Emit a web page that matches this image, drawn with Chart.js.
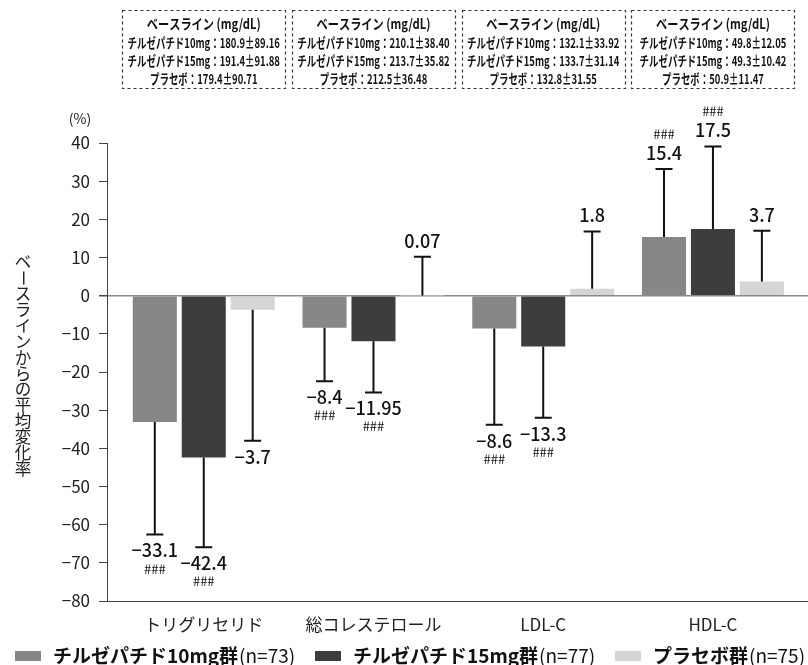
<!DOCTYPE html>
<html lang="ja">
<head>
<meta charset="utf-8">
<script src="https://cdn.jsdelivr.net/npm/chart.js@4/dist/chart.umd.min.js"></script>
<style>
  html, body { margin: 0; padding: 0; background: #fff; }
  #wrap { width: 808px; height: 665px; position: relative; }
</style>
</head>
<body>
<div id="wrap"><canvas id="c"></canvas></div>
<script>
// Lipid categories
const categories = ['トリグリセリド', '総コレステロール', 'LDL-C', 'HDL-C'];

// Mean percent change from baseline
const mean10 = [-33.1, -8.4, -8.6, 15.4];
const mean15 = [-42.4, -11.95, -13.3, 17.5];
const meanPlacebo = [-3.7, 0.07, 1.8, 3.7];

// Standard deviations (error bars)
const sd10 = [29.5, 14.0, 25.2, 17.8];
const sd15 = [23.5, 13.4, 18.7, 21.6];
const sdPlacebo = [34.3, 10.1, 15.0, 13.3];

// Significance marks versus placebo
const sig10 = ['###', '###', '###', '###'];
const sig15 = ['###', '###', '###', '###'];
const sigPlacebo = ['', '', '', ''];

// Groups
const groupNames = ['チルゼパチド10mg群', 'チルゼパチド15mg群', 'プラセボ群'];
const groupN = [73, 77, 75];
const groupColors = ['#878787', '#3d3d3d', '#d5d5d5'];

// Baseline values (mg/dL) shown above each category
const baselineTitle = 'ベースライン (mg/dL)';
const baselineLabels = ['チルゼパチド10mg', 'チルゼパチド15mg', 'プラセボ'];
const baseline10 = ['180.9±89.16', '210.1±38.40', '132.1±33.92', '49.8±12.05'];
const baseline15 = ['191.4±91.88', '213.7±35.82', '133.7±31.14', '49.3±10.42'];
const baselinePlacebo = ['179.4±90.71', '212.5±36.48', '132.8±31.55', '50.9±11.47'];

// Axis
const yMin = -80, yMax = 40, yStep = 10;
const yUnit = '(%)';
const yTitle = 'ベースラインからの平均変化率';

const FONT = '"Noto Sans CJK JP", "Noto Sans", sans-serif';
const fmt = v => (v < 0 ? '\u2212' + String(Math.abs(v)) : String(v));

const means = [mean10, mean15, meanPlacebo];
const sds = [sd10, sd15, sdPlacebo];
const sigs = [sig10, sig15, sigPlacebo];
const baselines = [baseline10, baseline15, baselinePlacebo];

const datasets = groupNames.map((name, g) => ({
  label: name,
  data: means[g].map((v, i) => ({ x: i, y: v })),
  backgroundColor: groupColors[g],
  borderWidth: 0,
  categoryPercentage: 0.865,
  barPercentage: 0.9
}));

const annotations = {
  id: 'annotations',
  afterDatasetsDraw(chart) {
    const ctx = chart.ctx;
    const ys = chart.scales.y;
    const xs = chart.scales.x;
    ctx.save();
    // error bars and value labels
    datasets.forEach((ds, g) => {
      const meta = chart.getDatasetMeta(g);
      meta.data.forEach((bar, i) => {
        const m = means[g][i];
        const dir = m < 0 ? -1 : 1;
        const yEnd = ys.getPixelForValue(m + dir * sds[g][i]);
        ctx.strokeStyle = '#111';
        ctx.lineWidth = 2;
        ctx.beginPath();
        ctx.moveTo(bar.x, bar.y);
        ctx.lineTo(bar.x, yEnd);
        ctx.moveTo(bar.x - 8.5, yEnd);
        ctx.lineTo(bar.x + 8.5, yEnd);
        ctx.stroke();

        ctx.fillStyle = '#111';
        ctx.textAlign = 'center';
        ctx.textBaseline = 'middle';
        const vy = dir < 0 ? yEnd + 16 : yEnd - 16;
        ctx.font = '500 18px ' + FONT;
        ctx.fillText(fmt(m), bar.x, vy);
        if (sigs[g][i]) {
          ctx.font = '13px ' + FONT;
          ctx.fillText(sigs[g][i], bar.x, dir < 0 ? vy + 18 : vy - 19);
        }
      });
    });

    // baseline boxes
    categories.forEach((c, i) => {
      const cx = xs.getPixelForValue(i);
      const w = 163;
      ctx.setLineDash([3, 3]);
      ctx.strokeStyle = '#333';
      ctx.lineWidth = 1.2;
      ctx.strokeRect(Math.round(cx - w / 2) + 0.5, 10.5, w, 78);
      ctx.setLineDash([]);
      ctx.fillStyle = '#111';
      ctx.textAlign = 'center';
      ctx.textBaseline = 'middle';
      ctx.font = 'bold 14px ' + FONT;
      let t = baselineTitle;
      ctx.fillText(t, cx, 24, ctx.measureText(t).width * 0.8);
      ctx.font = 'bold 13.5px ' + FONT;
      const lineY = [43, 61, 79];
      baselineLabels.forEach((lab, g) => {
        t = lab + '：' + baselines[g][i];
        ctx.fillText(t, cx, lineY[g], ctx.measureText(t).width * 0.7);
      });
    });

    // unit label
    ctx.font = '14px ' + FONT;
    ctx.fillStyle = '#222';
    ctx.textAlign = 'center';
    ctx.fillText(yUnit, 80, 119);

    // vertical axis title, upright characters
    ctx.font = '16.5px ' + FONT;
    const chars = Array.from(yTitle);
    chars.forEach((ch, j) => {
      const y = 262 + j * 15.9;
      if (ch === 'ー') {
        ctx.save();
        ctx.translate(23, y);
        ctx.rotate(Math.PI / 2);
        ctx.fillText(ch, 0, 0);
        ctx.restore();
      } else {
        ctx.fillText(ch, 23, y);
      }
    });

    // legend
    const starts = [15, 315, 615];
    groupNames.forEach((name, g) => {
      const x0 = starts[g];
      ctx.fillStyle = groupColors[g];
      ctx.fillRect(x0, 651, 26, 10);
      ctx.fillStyle = '#111';
      ctx.textAlign = 'left';
      ctx.textBaseline = 'middle';
      ctx.font = 'bold 19px ' + FONT;
      ctx.fillText(name, x0 + 38, 656);
      const wName = ctx.measureText(name).width;
      ctx.font = '19px ' + FONT;
      ctx.fillText('(n=' + groupN[g] + ')', x0 + 38 + wName + 1, 656);
    });
    ctx.restore();
  }
};

new Chart(document.getElementById('c'), {
  type: 'bar',
  data: { datasets },
  options: {
    responsive: true,
    maintainAspectRatio: false,
    animation: false,
    layout: { padding: { top: 143, right: 0, left: 0, bottom: 0 } },
    plugins: { legend: { display: false }, tooltip: { enabled: false } },
    scales: {
      x: {
        type: 'linear',
        offset: false,
        min: -0.57,
        max: 3.56,
        grid: { display: false, offset: false },
        border: { display: true, color: '#444', width: 1 },
        afterBuildTicks: s => { s.ticks = categories.map((c, i) => ({ value: i })); },
        afterFit: s => { s.height = 64; s.paddingLeft = 0; s.paddingRight = 0; },
        ticks: {
          autoSkip: false,
          maxRotation: 0,
          padding: 5,
          color: '#222',
          font: { family: FONT, size: 17 },
          callback: v => categories[v]
        }
      },
      y: {
        min: yMin,
        max: yMax,
        afterFit: s => { s.width = 107; },
        border: { display: true, color: '#444', width: 1 },
        grid: {
          drawOnChartArea: true,
          color: c => (c.tick && c.tick.value === 0 ? '#8a8a8a' : 'rgba(0,0,0,0)'),
          lineWidth: c => (c.tick && c.tick.value === 0 ? 1.5 : 1),
          tickColor: '#444',
          tickLength: 8
        },
        ticks: {
          stepSize: yStep,
          padding: 9,
          color: '#222',
          font: { family: FONT, size: 17 },
          callback: v => fmt(v)
        }
      }
    }
  },
  plugins: [annotations]
});
</script>
</body>
</html>
